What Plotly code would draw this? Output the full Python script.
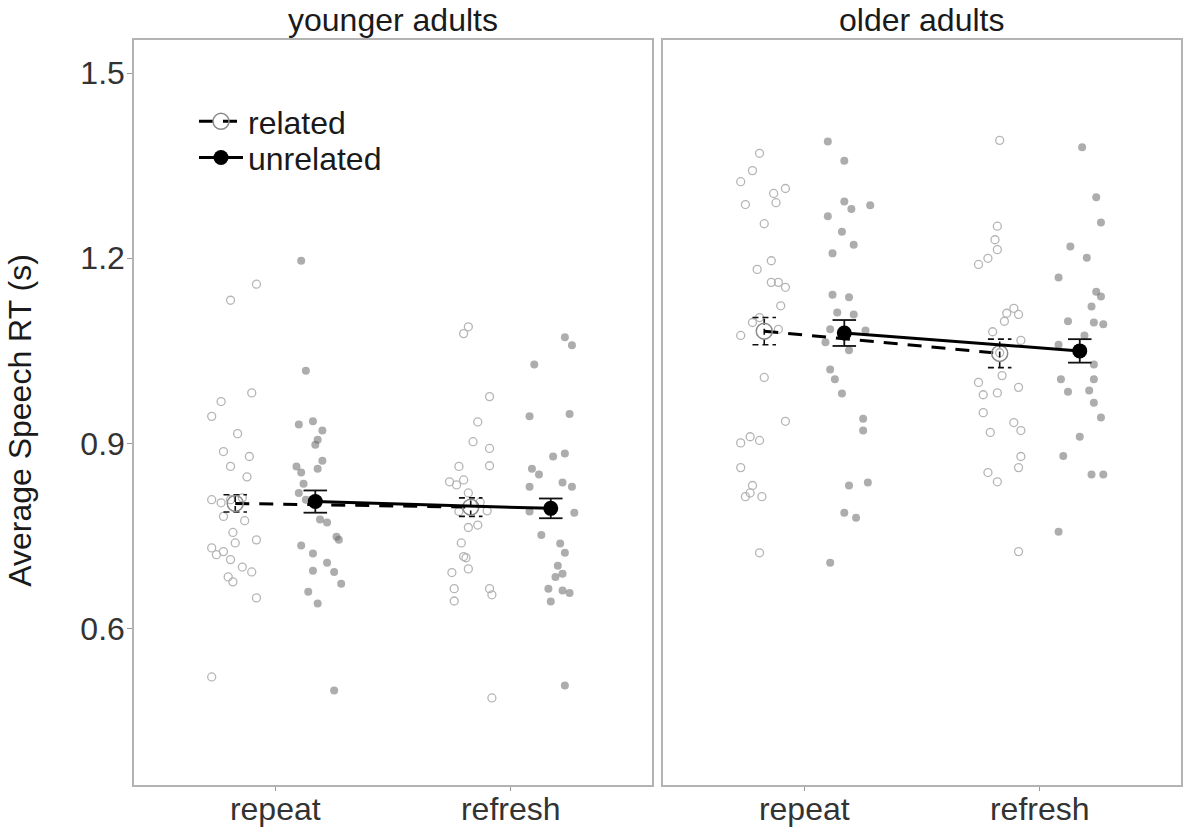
import plotly.graph_objects as go
from plotly.subplots import make_subplots

# ---------------- data ----------------
conditions = ["repeat", "refresh"]
groups = ["younger adults", "older adults"]

# individual participant RTs (s) and horizontal jitter (category units)
yng_rep_rel = [1.132,1.158,0.982,0.968,0.944,0.916,0.887,0.879,0.863,0.846,0.809,0.804,0.809,0.812,0.782,0.775,0.756,0.739,0.744,0.731,0.720,0.725,0.712,0.700,0.692,0.684,0.676,0.650,0.522]
yng_rep_rel_j = [-0.02,0.09,0.07,-0.06,-0.10,0.01,-0.05,0.06,-0.02,0.05,-0.10,-0.06,-0.02,0.03,-0.05,0.04,-0.01,0.00,0.09,-0.10,-0.08,-0.05,-0.02,0.03,0.07,-0.03,-0.01,0.09,-0.10]
yng_rep_unr = [1.196,1.018,0.931,0.936,0.921,0.906,0.898,0.872,0.863,0.853,0.859,0.835,0.820,0.777,0.772,0.749,0.744,0.735,0.722,0.707,0.694,0.692,0.673,0.660,0.641,0.500,0.809]
yng_rep_unr_j = [-0.06,-0.04,-0.07,-0.01,0.03,0.01,0.00,0.03,-0.08,-0.06,0.01,-0.05,-0.07,0.02,0.05,0.09,0.10,-0.06,-0.01,0.05,-0.01,0.08,0.11,-0.03,0.01,0.08,-0.04]
yng_ref_rel = [1.089,1.078,0.976,0.935,0.903,0.892,0.864,0.863,0.838,0.833,0.841,0.820,0.791,0.768,0.764,0.739,0.717,0.715,0.697,0.691,0.665,0.665,0.655,0.645,0.488,0.805,0.790]
yng_ref_rel_j = [-0.01,-0.03,0.08,0.03,0.01,0.08,0.08,-0.05,-0.09,-0.06,-0.03,-0.01,0.07,0.03,-0.01,-0.04,-0.03,-0.02,-0.01,-0.08,-0.07,0.08,0.09,-0.07,0.09,0.04,-0.05]
yng_ref_unr = [1.072,1.059,1.028,0.944,0.948,0.879,0.884,0.859,0.850,0.830,0.837,0.830,0.790,0.788,0.752,0.738,0.723,0.702,0.684,0.689,0.665,0.662,0.658,0.644,0.508]
yng_ref_unr_j = [0.06,0.09,-0.07,-0.09,0.08,0.01,0.06,-0.08,-0.05,-0.09,0.05,0.09,-0.09,0.10,-0.04,0.04,0.06,0.03,0.02,0.05,-0.01,0.05,0.08,0.00,0.06]

old_rep_rel = [1.370,1.342,1.324,1.313,1.305,1.287,1.290,1.256,1.196,1.182,1.161,1.161,1.153,1.123,1.104,1.096,1.075,1.085,1.007,0.936,0.901,0.911,0.905,0.861,0.832,0.814,0.820,0.814,0.723]
old_rep_rel_j = [-0.02,-0.05,-0.10,0.09,0.04,-0.08,0.05,0.00,0.03,-0.03,0.03,0.06,0.09,0.07,-0.02,-0.05,-0.10,0.06,0.00,0.09,-0.10,-0.06,-0.02,-0.10,-0.05,-0.08,-0.06,-0.01,-0.02]
old_rep_unr = [1.389,1.358,1.292,1.280,1.286,1.268,1.243,1.222,1.208,1.141,1.137,1.112,1.109,1.085,1.083,1.064,1.051,1.020,1.004,0.981,0.940,0.921,0.832,0.837,0.788,0.780,0.707]
old_rep_unr_j = [-0.07,0.00,0.00,0.03,0.11,-0.07,-0.01,0.04,-0.05,-0.05,0.02,-0.03,0.04,-0.06,0.09,-0.08,0.02,-0.06,-0.04,-0.01,0.08,0.08,0.02,0.10,0.00,0.05,-0.06]
old_ref_rel = [1.391,1.252,1.230,1.214,1.200,1.190,1.119,1.109,1.111,1.098,1.081,1.067,1.047,1.010,0.999,0.979,0.982,0.991,0.950,0.918,0.934,0.921,0.879,0.861,0.853,0.838,0.725]
old_ref_rel_j = [0.00,-0.01,-0.02,-0.01,-0.05,-0.09,0.06,0.08,0.03,0.02,-0.03,0.09,0.00,0.01,-0.09,-0.07,-0.01,0.08,-0.07,-0.04,0.06,0.09,0.09,0.08,-0.05,-0.01,0.08]
old_ref_unr = [1.380,1.299,1.258,1.219,1.201,1.169,1.146,1.138,1.122,1.098,1.096,1.093,1.075,1.060,1.028,1.004,1.004,0.984,0.986,0.966,0.942,0.911,0.880,0.850,0.850,0.757]
old_ref_unr_j = [0.01,0.07,0.09,-0.04,0.03,-0.09,0.07,0.09,0.05,-0.05,0.06,0.10,0.02,-0.09,0.06,-0.08,0.06,-0.05,0.04,0.06,0.09,0.00,-0.07,0.05,0.10,-0.09]

# condition means and standard errors  [repeat, refresh]
yng_rel_mean = [0.803, 0.797]
yng_rel_se = [0.014, 0.015]
yng_unr_mean = [0.806, 0.795]
yng_unr_se = [0.018, 0.016]
old_rel_mean = [1.082, 1.046]
old_rel_se = [0.022, 0.023]
old_unr_mean = [1.079, 1.050]
old_unr_se = [0.021, 0.019]

y_ticks = [0.6, 0.9, 1.2, 1.5]
y_tick_labels = ["0.6", "0.9", "1.2", "1.5"]

# ---------------- figure ----------------
FONT = "Liberation Sans, Arial, sans-serif"
DODGE = 0.17
CAP = 0.05
REL_PT = "#b5b5b5"
UNR_PT = "rgba(105,105,105,0.55)"

fig = make_subplots(rows=1, cols=2, shared_yaxes=True,
                    horizontal_spacing=0.0105, subplot_titles=groups)

panels = [
    dict(rel=[(yng_rep_rel, yng_rep_rel_j), (yng_ref_rel, yng_ref_rel_j)],
         unr=[(yng_rep_unr, yng_rep_unr_j), (yng_ref_unr, yng_ref_unr_j)],
         rm=yng_rel_mean, rs=yng_rel_se, um=yng_unr_mean, us=yng_unr_se),
    dict(rel=[(old_rep_rel, old_rep_rel_j), (old_ref_rel, old_ref_rel_j)],
         unr=[(old_rep_unr, old_rep_unr_j), (old_ref_unr, old_ref_unr_j)],
         rm=old_rel_mean, rs=old_rel_se, um=old_unr_mean, us=old_unr_se),
]

def errbar_xy(centers, means, ses):
    xs, ys = [], []
    for c, m, s in zip(centers, means, ses):
        xs += [c - CAP, c + CAP, None, c, c, None, c - CAP, c + CAP, None]
        ys += [m + s, m + s, None, m - s, m + s, None, m - s, m - s, None]
    return xs, ys

for col, p in enumerate(panels, start=1):
    rel_c = [i + 1 - DODGE for i in range(len(conditions))]
    unr_c = [i + 1 + DODGE for i in range(len(conditions))]
    # individual points
    for k, (vals, jit) in enumerate(p["rel"]):
        fig.add_trace(go.Scatter(
            x=[rel_c[k] + j for j in jit], y=vals, mode="markers",
            marker=dict(symbol="circle-open", size=8, color=REL_PT, line=dict(width=1.3)),
            showlegend=False, hoverinfo="y"), row=1, col=col)
    for k, (vals, jit) in enumerate(p["unr"]):
        fig.add_trace(go.Scatter(
            x=[unr_c[k] + j for j in jit], y=vals, mode="markers",
            marker=dict(symbol="circle", size=8, color=UNR_PT, line=dict(width=0)),
            showlegend=False, hoverinfo="y"), row=1, col=col)
    # error bars
    ex, ey = errbar_xy(rel_c, p["rm"], p["rs"])
    fig.add_trace(go.Scatter(x=ex, y=ey, mode="lines",
                             line=dict(color="#111", width=1.6, dash="6px,4px"),
                             showlegend=False, hoverinfo="skip"), row=1, col=col)
    ex, ey = errbar_xy(unr_c, p["um"], p["us"])
    fig.add_trace(go.Scatter(x=ex, y=ey, mode="lines",
                             line=dict(color="#111", width=1.8),
                             showlegend=False, hoverinfo="skip"), row=1, col=col)
    # means
    fig.add_trace(go.Scatter(
        x=rel_c, y=p["rm"], mode="lines+markers", name="related",
        line=dict(color="#000", width=3, dash="14px,10px"),
        marker=dict(symbol="circle", size=16, color="rgba(255,255,255,0)",
                    line=dict(color="#8a8a8a", width=1.5)),
        showlegend=(col == 1), legend="legend"), row=1, col=col)
    fig.add_trace(go.Scatter(
        x=unr_c, y=p["um"], mode="lines+markers", name="unrelated",
        line=dict(color="#000", width=3),
        marker=dict(symbol="circle", size=15, color="#000"),
        showlegend=(col == 1), legend="legend2"), row=1, col=col)

axis_common = dict(showgrid=False, zeroline=False, showline=True, mirror=True,
                   linecolor="#b3b3b3", linewidth=1.5, automargin=False,
                   tickfont=dict(family=FONT, size=32, color="#333"))
fig.update_xaxes(range=[0.4, 2.6], tickmode="array", tickvals=[1, 2], ticktext=conditions,
                 ticks="outside", ticklen=4, tickcolor="#999", ticklabelstandoff=-9,
                 **axis_common)
fig.update_yaxes(range=[0.347, 1.5535], tickmode="array", tickvals=y_ticks,
                 ticktext=y_tick_labels, **axis_common)
fig.update_yaxes(ticks="outside", ticklen=5, tickcolor="#999", ticklabelstandoff=-4,
                 row=1, col=1)
fig.update_yaxes(ticks="", showticklabels=False, row=1, col=2)

for ann in fig.layout.annotations:
    ann.font = dict(family=FONT, size=32, color="#1a1a1a")

fig.add_annotation(text="Average Speech RT (s)", textangle=-90, xref="paper", yref="paper",
                   x=-0.109, y=0.49, xanchor="center", yanchor="middle", showarrow=False,
                   font=dict(family=FONT, size=32, color="#1a1a1a"))

leg_common = dict(xanchor="left", yanchor="top", bgcolor="rgba(255,255,255,0)",
                  font=dict(family=FONT, size=32, color="#1a1a1a"), itemwidth=44)
fig.update_layout(
    width=1183, height=830,
    margin=dict(l=134, r=2, t=40, b=45),
    paper_bgcolor="white", plot_bgcolor="white",
    font=dict(family=FONT, color="#1a1a1a"),
    legend=dict(x=0.0573, y=0.9275, **leg_common),
    legend2=dict(x=0.0573, y=0.879, **leg_common),
    showlegend=True,
)

fig.write_html("out.html", config={"displayModeBar": False},
               post_script="document.body.style.margin='0px';document.body.style.overflow='hidden';")
